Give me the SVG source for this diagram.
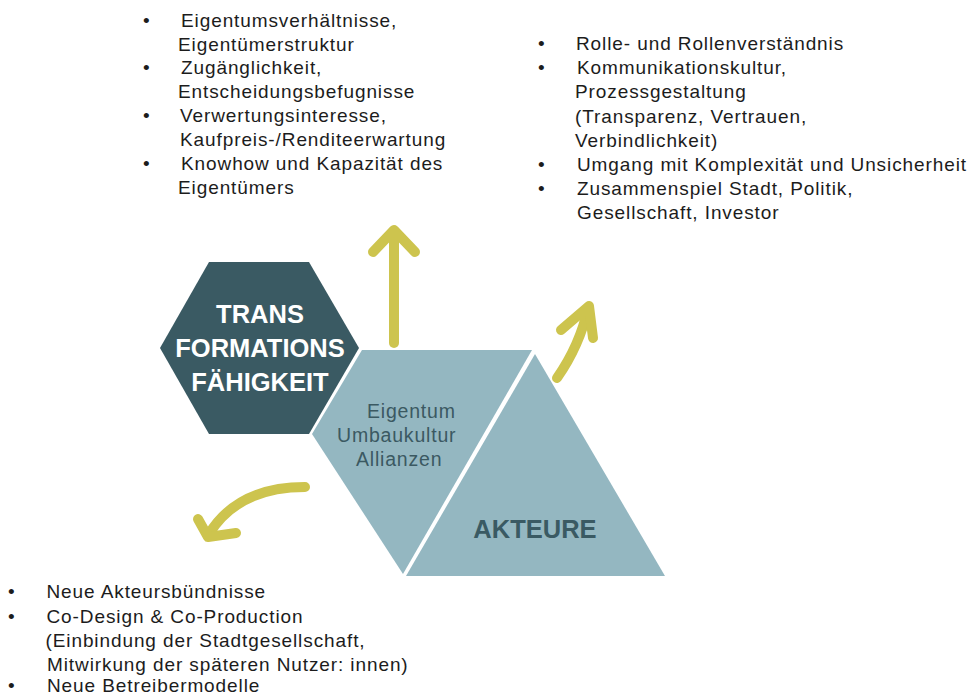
<svg xmlns="http://www.w3.org/2000/svg" width="970" height="695" viewBox="0 0 970 695">
  <style>
    .list { font-family: "Liberation Sans", Arial, sans-serif; font-size: 19px; letter-spacing: 0.9px; fill: #1c1c1c; }
    .title { font-family: "Liberation Sans", Arial, sans-serif; font-weight: bold; font-size: 25.5px; text-anchor: middle; }
    .sub { font-family: "Liberation Sans", Arial, sans-serif; font-size: 19.5px; letter-spacing: 0.8px; fill: #3b5962; }
    .arrow { fill: none; stroke: #cdc44e; stroke-width: 10; stroke-linecap: round; stroke-linejoin: round; }
  </style>
  <rect width="970" height="695" fill="#ffffff"/>

  <!-- Hexagon: transformation capability -->
  <g id="hexagon">
    <polygon points="209,262 309,262 359,348 309,434 209,434 160,348" fill="#3a5a63"/>
    <text class="title" fill="#ffffff" x="260" y="323">TRANS</text>
    <text class="title" fill="#ffffff" x="260" y="357">FORMATIONS</text>
    <text class="title" fill="#ffffff" x="260" y="391">FÄHIGKEIT</text>
  </g>

  <!-- Parallelogram: property, conversion culture, alliances -->
  <g id="themes">
    <polygon points="362,350 532,350 403,574 312,434" fill="#94b7c1"/>
    <text class="sub" x="367" y="418">Eigentum</text>
    <text class="sub" x="337" y="442">Umbaukultur</text>
    <text class="sub" x="356" y="466">Allianzen</text>
  </g>

  <!-- Triangle: actors -->
  <g id="akteure">
    <polygon points="535,354 665,576 406,576" fill="#94b7c1"/>
    <text class="title" fill="#3a5a63" x="535" y="538">AKTEURE</text>
  </g>

  <!-- Yellow arrows pointing to the three lists -->
  <g id="connectors">
    <path class="arrow" d="M394,343 L394,231"/>
    <polyline class="arrow" points="373,252 394,230 415,252"/>
    <path class="arrow" d="M557,378 Q580,345 588,308"/>
    <polyline class="arrow" points="561,330 589,306 593,338"/>
    <path class="arrow" d="M305,487 Q238,487 209,534"/>
    <polyline class="arrow" points="198,519 208,537 236,533"/>
  </g>

  <!-- List: property -->
  <g id="list-eigentum" class="list">
    <text x="143" y="26.5">•</text><text x="181" y="26.5">Eigentumsverhältnisse,</text>
    <text x="178" y="50.5">Eigentümerstruktur</text>
    <text x="143" y="74">•</text><text x="181" y="74">Zugänglichkeit,</text>
    <text x="178" y="98">Entscheidungsbefugnisse</text>
    <text x="143" y="122">•</text><text x="180" y="122">Verwertungsinteresse,</text>
    <text x="180" y="146">Kaufpreis-/Renditeerwartung</text>
    <text x="143" y="170">•</text><text x="181" y="170">Knowhow und Kapazität des</text>
    <text x="178" y="194">Eigentümers</text>
  </g>

  <!-- List: culture -->
  <g id="list-kultur" class="list">
    <text x="538" y="50">•</text><text x="576" y="50">Rolle- und Rollenverständnis</text>
    <text x="538" y="74.3">•</text><text x="577" y="74.3">Kommunikationskultur,</text>
    <text x="575" y="98.3">Prozessgestaltung</text>
    <text x="575" y="122.7">(Transparenz, Vertrauen,</text>
    <text x="575" y="146.7">Verbindlichkeit)</text>
    <text x="538" y="170.7">•</text><text x="577" y="170.7">Umgang mit Komplexität und Unsicherheit</text>
    <text x="538" y="195">•</text><text x="577" y="195">Zusammenspiel Stadt, Politik,</text>
    <text x="577" y="219">Gesellschaft, Investor</text>
  </g>

  <!-- List: alliances -->
  <g id="list-allianzen" class="list">
    <text x="8" y="598.3">•</text><text x="46.5" y="598.3">Neue Akteursbündnisse</text>
    <text x="8" y="622.7">•</text><text x="46.5" y="622.7">Co-Design &amp; Co-Production</text>
    <text x="45.5" y="646.7">(Einbindung der Stadtgesellschaft,</text>
    <text x="47" y="670.5">Mitwirkung der späteren Nutzer: innen)</text>
    <text x="8" y="692">•</text><text x="47" y="692">Neue Betreibermodelle</text>
  </g>
</svg>
